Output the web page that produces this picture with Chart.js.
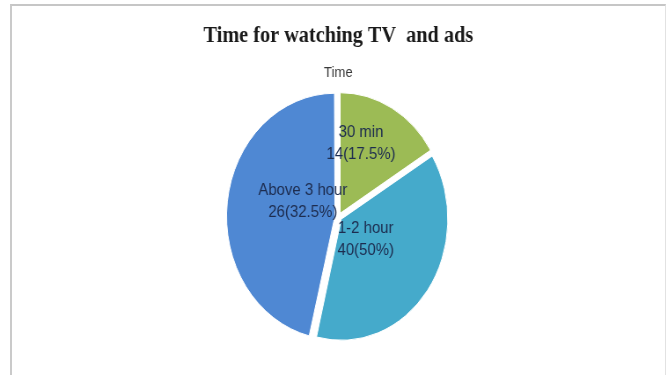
<!DOCTYPE html>
<html>
<head>
<meta charset="utf-8">
<script src="https://cdn.jsdelivr.net/npm/chart.js@4.4.0/dist/chart.umd.min.js"></script>
<style>
  body { margin: 0; background: #fff; width: 669px; height: 375px; overflow: hidden; position: relative; }
  #frame { position: absolute; left: 10px; top: 4px; width: 653px; height: 380px;
           border-top: 2px solid #c6c6c6; border-left: 2px solid #cacaca; border-right: 1px solid #e2e2e2; }
  #wrap { position: absolute; left: 0; top: 0; width: 760px; height: 375px;
          transform: scaleX(0.88); transform-origin: 0 0; }
</style>
</head>
<body>
<div id="frame"></div>
<div id="wrap"><canvas id="pie"></canvas></div>
<script>
// category names and the numbers printed in the labels
var categories = ['30 min', '1-2 hour', 'Above 3 hour'];
var labelCounts = [14, 40, 26];
var labelPercents = ['17.5%', '50%', '32.5%'];
// slice sizes as they are drawn in the picture (out of 80)
var sliceSizes = [13, 30, 37];
var sliceColors = ['#9cbb55', '#45aacb', '#4f88d3'];

// where each label sits: fraction of radius and a small turn off the slice middle
var labelPlacement = [
  { frac: 0.65, turn: -10 },
  { frac: 0.32, turn: 0 },
  { frac: 0.36, turn: 14 }
];

var sliceLabels = {
  id: 'sliceLabels',
  afterDatasetsDraw: function(chart) {
    var ctx = chart.ctx;
    var meta = chart.getDatasetMeta(0);
    ctx.save();
    ctx.font = '17px "Liberation Sans", Arial, sans-serif';
    ctx.fillStyle = '#1d2c4f';
    ctx.textAlign = 'center';
    ctx.textBaseline = 'middle';
    meta.data.forEach(function(arc, i) {
      var p = arc.getProps(['x', 'y', 'startAngle', 'endAngle', 'outerRadius'], true);
      var place = labelPlacement[i];
      var mid = (p.startAngle + p.endAngle) / 2 + place.turn * Math.PI / 180;
      var r = p.outerRadius * place.frac;
      var cx = p.x + Math.cos(mid) * r;
      var cy = p.y + Math.sin(mid) * r;
      ctx.fillText(categories[i], cx, cy - 11);
      ctx.fillText(labelCounts[i] + '(' + labelPercents[i] + ')', cx, cy + 11);
    });
    ctx.restore();
  }
};

var chart = new Chart(document.getElementById('pie'), {
  type: 'pie',
  data: {
    labels: categories,
    datasets: [{
      data: sliceSizes,
      backgroundColor: sliceColors,
      borderColor: '#ffffff',
      borderWidth: 1,
      offset: 16,
      radius: 120
    }]
  },
  options: {
    responsive: true,
    maintainAspectRatio: false,
    animation: false,
    layout: { padding: { top: 0, bottom: 26, left: 9, right: 0 } },
    plugins: {
      legend: { display: false },
      tooltip: { enabled: false },
      title: {
        display: true,
        text: 'Time for watching TV  and ads',
        color: '#1a1a1a',
        font: { family: '"Liberation Serif", "Times New Roman", serif', size: 23, weight: 'bold' },
        padding: { top: 22, bottom: 14 }
      },
      subtitle: {
        display: true,
        text: 'Time',
        color: '#3a3a3a',
        font: { family: '"Liberation Sans", Arial, sans-serif', size: 15 },
        padding: { top: 0, bottom: 3 }
      }
    }
  },
  plugins: [sliceLabels]
});
</script>
</body>
</html>
